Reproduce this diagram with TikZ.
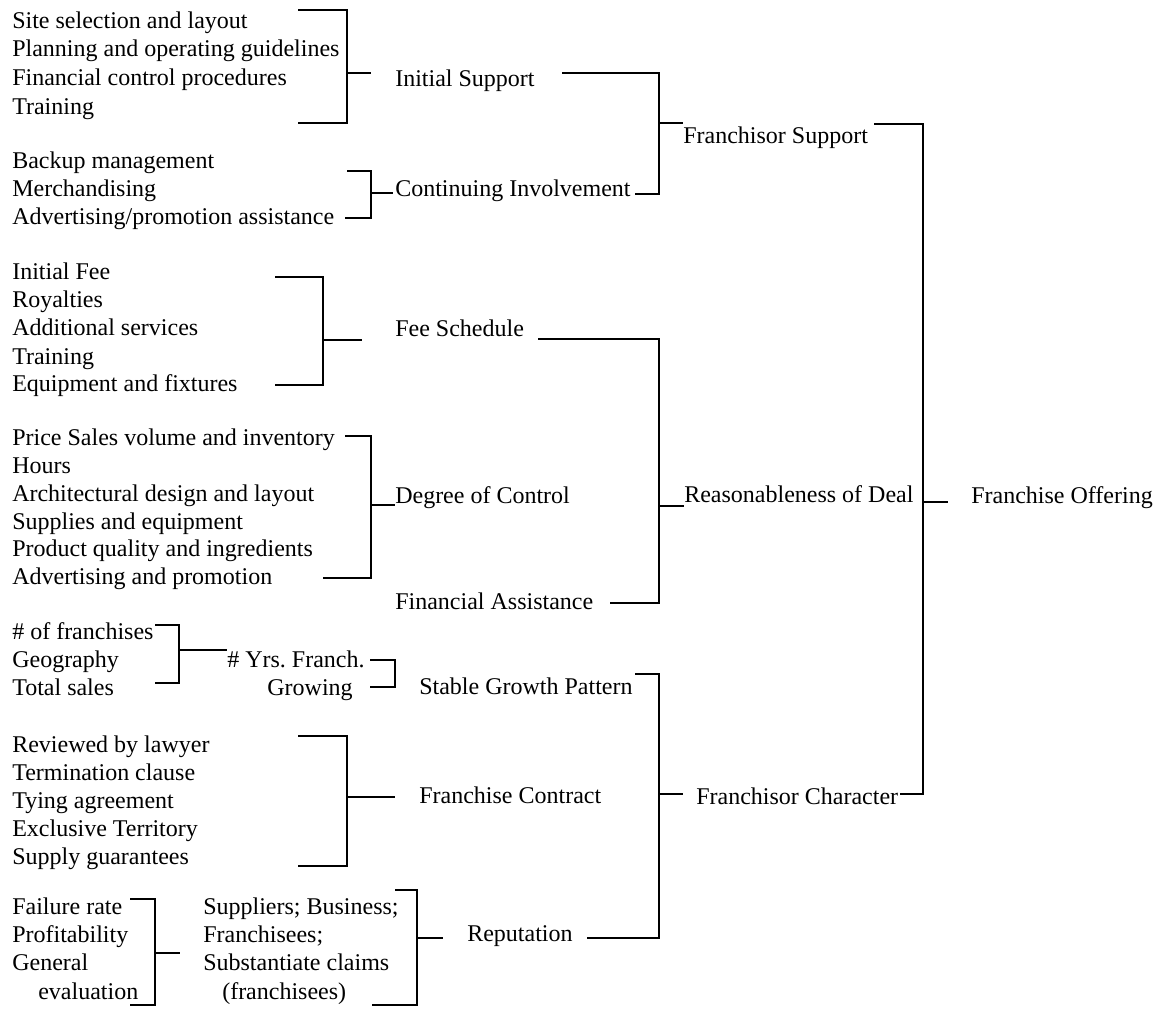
\documentclass[tikz,border=0pt]{standalone}
\usepackage{fontspec}
\setmainfont{Liberation Serif}
\frenchspacing
\begin{document}
\begin{tikzpicture}[x=0.75pt,y=-0.75pt,
  txt/.style={anchor=base west,inner sep=0pt,font=\fontsize{18}{21}\selectfont},
  txtr/.style={anchor=base east,inner sep=0pt,font=\fontsize{18}{21}\selectfont},
  brk/.style={draw=black,line width=1.4pt,line join=miter}]
\useasboundingbox (0,0) rectangle (1157,1009);
% Group A
\node[txt] (a1) at (12,29) {Site selection and layout};
\node[txt] (a2) at (12,57) {Planning and operating guidelines};
\node[txt] (a3) at (12,86) {Financial control procedures};
\node[txt] (a4) at (12,115) {Training};
\draw[brk] (298,10) -- (347,10) -- (347,123) -- (298,123);
\draw[brk] (347,73) -- (371,73);
\node[txt] (is) at (395,87) {Initial Support};
% Group B
\node[txt] (b1) at (12,169) {Backup management};
\node[txt] (b2) at (12,197) {Merchandising};
\node[txt] (b3) at (12,225) {Advertising/promotion assistance};
\draw[brk] (347,171) -- (371,171) -- (371,218) -- (345,218);
\draw[brk] (371,193) -- (393,193);
\node[txt] (ci) at (395,197) {Continuing Involvement};
% Franchisor Support bracket
\draw[brk] (562,73) -- (659,73) -- (659,194) -- (635,194);
\draw[brk] (659,123) -- (683,123);
\node[txt] (fs) at (683,144) {Franchisor Support};
% Group C
\node[txt] (c1) at (12,280) {Initial Fee};
\node[txt] (c2) at (12,308) {Royalties};
\node[txt] (c3) at (12,336) {Additional services};
\node[txt] (c4) at (12,364) {Training};
\node[txt] (c5) at (12,392) {Equipment and fixtures};
\draw[brk] (275,277) -- (323,277) -- (323,385) -- (275,385);
\draw[brk] (323,340) -- (362,340);
\node[txt] (fsch) at (395,337) {Fee Schedule};
% Group D
\node[txt] (d1) at (12,445) {Price Sales volume and inventory};
\node[txt] (d2) at (12,473) {Hours};
\node[txt] (d3) at (12,501) {Architectural design and layout};
\node[txt] (d4) at (12,529) {Supplies and equipment};
\node[txt] (d5) at (12,556) {Product quality and ingredients};
\node[txt] (d6) at (12,584) {Advertising and promotion};
\draw[brk] (345,436) -- (371,436) -- (371,578) -- (323,578);
\draw[brk] (371,505) -- (395,505);
\node[txt] (doc) at (395,503) {Degree of Control};
\node[txt] (fa) at (395,609) {Financial Assistance};
% Reasonableness bracket
\draw[brk] (538,339) -- (659,339) -- (659,603) -- (610,603);
\draw[brk] (659,506) -- (684,506);
\node[txt] (rod) at (684,502) {Reasonableness of Deal};
% Group E
\node[txt] (e1) at (12,639) {\# of franchises};
\node[txt] (e2) at (12,667) {Geography};
\node[txt] (e3) at (12,695) {Total sales};
\draw[brk] (155,625) -- (179,625) -- (179,683) -- (155,683);
\draw[brk] (179,650) -- (227,650);
\node[txt] (yrs) at (227,667) {\# Yrs. Franch.};
\node[txtr] (grow) at (353,695) {Growing};
\draw[brk] (370,660) -- (395,660) -- (395,687) -- (370,687);
\node[txt] (sgp) at (419,694) {Stable Growth Pattern};
% Franchisor Character bracket
\draw[brk] (635,674) -- (659,674) -- (659,938) -- (587,938);
\draw[brk] (659,794) -- (683,794);
\node[txt] (fch) at (696,804) {Franchisor Character};
% Group F
\node[txt] (f1) at (12,752) {Reviewed by lawyer};
\node[txt] (f2) at (12,780) {Termination clause};
\node[txt] (f3) at (12,808) {Tying agreement};
\node[txt] (f4) at (12,836) {Exclusive Territory};
\node[txt] (f5) at (12,864) {Supply guarantees};
\draw[brk] (298,736) -- (347,736) -- (347,866) -- (298,866);
\draw[brk] (347,797) -- (395,797);
\node[txt] (fcon) at (419,803) {Franchise Contract};
% Group G
\node[txt] (g1) at (12,914) {Failure rate};
\node[txt] (g2) at (12,942) {Profitability};
\node[txt] (g3) at (12,970) {General};
\node[txt] (g4) at (38,999) {evaluation};
\draw[brk] (130,899) -- (155,899) -- (155,1005) -- (130,1005);
\draw[brk] (155,953) -- (180,953);
% Group H
\node[txt] (h1) at (203,914) {Suppliers; Business;};
\node[txt] (h2) at (203,942) {Franchisees;};
\node[txt] (h3) at (203,970) {Substantiate claims};
\node[txt] (h4) at (222,999) {(franchisees)};
\draw[brk] (395,890) -- (417,890) -- (417,1005) -- (372,1005);
\draw[brk] (417,938) -- (443,938);
\node[txt] (rep) at (467,941) {Reputation};
% Franchise Offering bracket
\draw[brk] (874,124) -- (923,124) -- (923,794) -- (900,794);
\draw[brk] (923,502) -- (948,502);
\node[txt] (fo) at (971,503) {Franchise Offering};
\end{tikzpicture}
\end{document}
